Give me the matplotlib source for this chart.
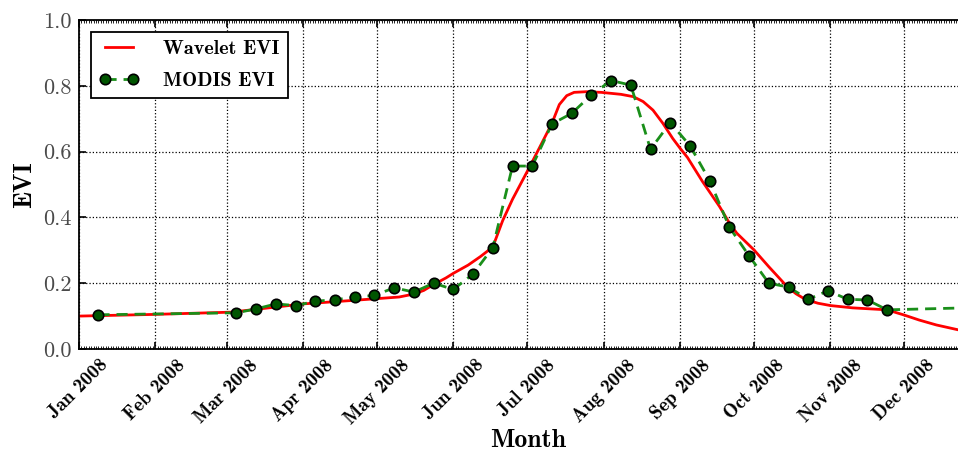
import numpy as np
import matplotlib
matplotlib.use("Agg")
from matplotlib import pyplot as plt
import matplotlib.dates as mdates

# day offsets from 2008-01-01
start = np.datetime64("2008-01-01")

modis_days = [8, 64, 72, 80, 88, 96, 104, 112, 120, 128, 136, 144, 152, 160,
              168, 176, 184, 192, 200, 208, 216, 224, 232, 240, 248, 256, 264,
              272, 280, 288, 296, 304, 312, 320, 328, 360]
modis_evi = [0.104, 0.110, 0.122, 0.137, 0.132, 0.145, 0.150, 0.157, 0.163,
             0.186, 0.173, 0.200, 0.181, 0.228, 0.308, 0.556, 0.556, 0.684,
             0.716, 0.772, 0.816, 0.802, 0.607, 0.688, 0.618, 0.512, 0.370,
             0.283, 0.200, 0.188, 0.151, 0.177, 0.151, 0.149, 0.119, 0.125]

wavelet_days = [0, 30, 62, 91, 110, 121, 130, 136, 140, 144, 149, 152, 158,
                163, 168, 172, 176, 182, 186, 189, 192, 195, 198, 201, 206,
                212, 220, 225, 229, 233, 237, 241, 244, 247, 253, 260, 264,
                267, 274, 280, 287, 291, 295, 300, 305, 314, 321, 328, 335,
                341, 348, 357, 365]
wavelet_evi = [0.100, 0.105, 0.112, 0.137, 0.147, 0.153, 0.158, 0.167, 0.178,
               0.196, 0.216, 0.230, 0.255, 0.281, 0.310, 0.390, 0.455, 0.540,
               0.598, 0.642, 0.686, 0.743, 0.770, 0.780, 0.782, 0.780, 0.774,
               0.767, 0.752, 0.726, 0.686, 0.640, 0.610, 0.582, 0.510, 0.433,
               0.383, 0.352, 0.301, 0.250, 0.193, 0.168, 0.150, 0.139, 0.132,
               0.125, 0.122, 0.119, 0.103, 0.088, 0.073, 0.058, 0.046]

yticks = [0.0, 0.2, 0.4, 0.6, 0.8, 1.0]

modis_dates = start + np.array(modis_days).astype("timedelta64[D]")
wavelet_dates = start + np.array(wavelet_days).astype("timedelta64[D]")

fig = plt.figure(figsize=(9.58, 4.54), dpi=100)
# right side of the axes runs past the figure edge (cropped like the original)
ax = fig.add_axes([0.0822, 0.2313, 0.939, 0.7247])

ax.plot(wavelet_dates, wavelet_evi, color="r", lw=2, label="Wavelet EVI")
ax.plot(modis_dates, modis_evi, "--", color="#1a8f1a", lw=2, dashes=(4, 2.5),
        marker="o", ms=7.5, mfc="#005500", mec="black", mew=1.2,
        label="MODIS EVI")

ax.set_xlim(np.datetime64("2008-01-01"), np.datetime64("2008-12-31"))
ax.set_ylim(0, 1.0)
ax.set_yticks(yticks)
ax.yaxis.set_major_formatter(plt.FormatStrFormatter("%.1f"))

ax.xaxis.set_major_locator(mdates.MonthLocator())
ax.xaxis.set_major_formatter(mdates.DateFormatter("%b %Y"))
ax.xaxis.set_minor_locator(mdates.DayLocator())

ax.grid(True, which="major", color="black", ls=":", lw=0.9)
ax.tick_params(which="major", direction="in", length=5, width=1.2,
               top=True, right=True, pad=5)
ax.tick_params(which="minor", direction="in", length=2.5, width=0.6,
               top=True, bottom=True)
for s in ax.spines.values():
    s.set_linewidth(1.3)

for lbl in ax.get_xticklabels():
    lbl.set_fontfamily("cmb10")
    lbl.set_fontsize(14)
    lbl.set_rotation(45)
for lbl in ax.get_yticklabels():
    lbl.set_fontfamily("cmr10")
    lbl.set_fontsize(16)
    lbl.set_color("#4a4a4a")

ax.set_xlabel("Month", fontfamily="cmb10", fontsize=18.5, labelpad=1)
ax.set_ylabel("EVI", fontfamily="cmb10", fontsize=18.5, labelpad=5)

leg = ax.legend(loc="upper left", numpoints=2, fancybox=False, framealpha=1,
                edgecolor="black", prop={"family": "cmb10", "size": 14.5},
                handlelength=2.0, handletextpad=1.2, borderaxespad=0.6,
                labelspacing=0.7)
leg.get_frame().set_linewidth(1.3)

fig.savefig("out.png", dpi=100)
